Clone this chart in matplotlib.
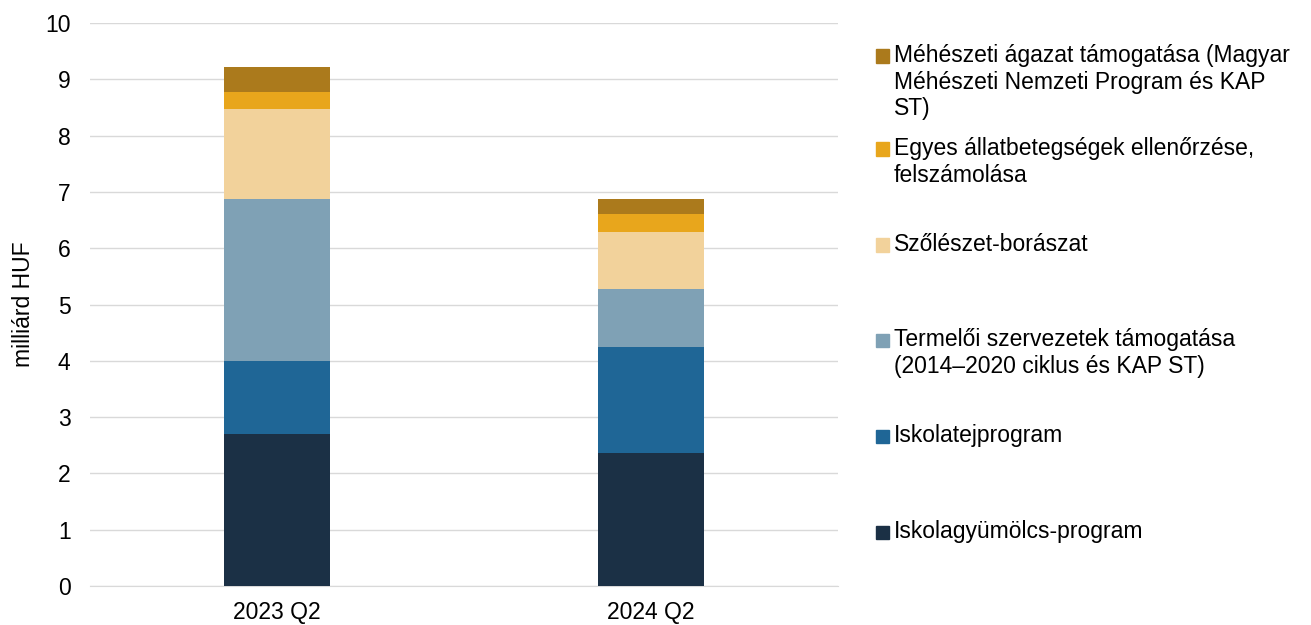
import numpy as np
import matplotlib
matplotlib.use("Agg")
import matplotlib.pyplot as plt
from matplotlib.patches import Rectangle

plt.rcParams['font.family'] = ['Liberation Sans', 'DejaVu Sans']

categories = ["2023 Q2", "2024 Q2"]
# series listed bottom -> top of the stack
series_names = [
    "Iskolagyümölcs-program",
    "Iskolatejprogram",
    "Termelői szervezetek támogatása\n(2014–2020 ciklus és KAP ST)",
    "Szőlészet-borászat",
    "Egyes állatbetegségek ellenőrzése,\nfelszámolása",
    "Méhészeti ágazat támogatása (Magyar\nMéhészeti Nemzeti Program és KAP\nST)",
]
iskolagyumolcs = [2.70, 2.36]
iskolatej = [1.29, 1.89]
termeloi = [2.88, 1.03]
szoleszet = [1.60, 1.00]
allatbeteg = [0.31, 0.33]
meheszeti = [0.43, 0.26]
values = [iskolagyumolcs, iskolatej, termeloi, szoleszet, allatbeteg, meheszeti]
colors = ["#1B3045", "#1F6696", "#7FA1B5", "#F2D29B", "#E8A61C", "#AB7A1C"]

FS = 16.5
W, H = 1311, 625

fig = plt.figure(figsize=(W / 100, H / 100), dpi=100)
ax = fig.add_axes([90 / W, 1 - 586 / H, 748 / W, 563 / H])

x = np.arange(len(categories))
bottom = np.zeros(len(categories))
for vals, col, name in zip(values, colors, series_names):
    ax.bar(x, vals, 0.286, bottom=bottom, color=col, label=name, zorder=3)
    bottom += np.array(vals)

ax.set_xlim(-0.5, 1.5)
ax.set_ylim(0, 10)
ax.set_yticks(range(0, 11))
ax.set_xticks(x)
ax.set_xticklabels(categories)
ax.grid(axis='y', color='#D9D9D9', linewidth=1.0, zorder=0)
for s in ['top', 'right', 'left']:
    ax.spines[s].set_visible(False)
ax.spines['bottom'].set_color('#D9D9D9')
ax.tick_params(axis='both', length=0, labelsize=FS, colors='black')
ax.tick_params(axis='y', pad=14)
ax.tick_params(axis='x', pad=11)
ax.set_ylabel("milliárd HUF", fontsize=FS, labelpad=7)

# legend drawn by hand (Excel-style spread over the plot height)
legend_y = [532, 436, 340, 245, 149, 56]  # marker centres, pixels from top
for name, col, yp in zip(series_names, colors, legend_y):
    fig.add_artist(Rectangle((876 / W, 1 - (yp + 6.5) / H), 13 / W, 13 / H,
                             transform=fig.transFigure, color=col))
    for i, line in enumerate(name.split("\n")):
        fig.text(894 / W, 1 - (yp + 6 + 26.5 * i) / H, line, fontsize=FS,
                 va='baseline', ha='left')

fig.savefig("out.png", dpi=100)
